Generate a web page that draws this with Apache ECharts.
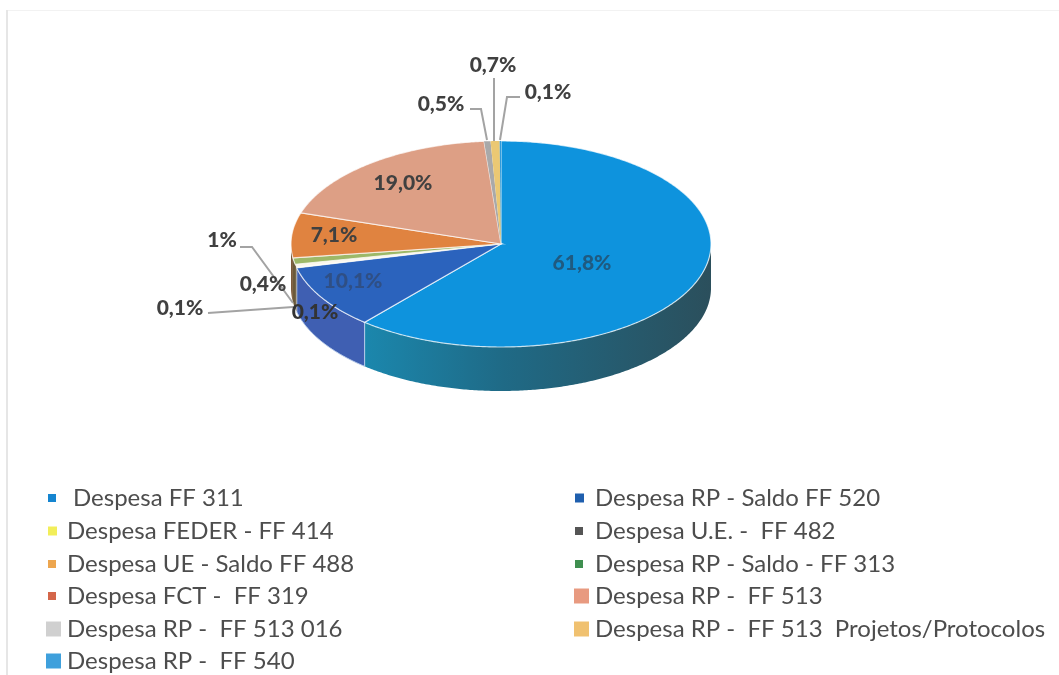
<!DOCTYPE html>
<html>
<head>
<meta charset="utf-8">
<style>
  html, body { margin: 0; padding: 0; background: #fff; }
  #chart { width: 1059px; height: 675px; }
</style>
<script src="https://cdn.jsdelivr.net/npm/echarts@6/dist/echarts.min.js"></script>
</head>
<body>
<div id="chart"></div>
<script>
// data, in drawing order (clockwise from 12 o'clock)
const categories = [
  'Despesa FF 311',
  'Despesa RP - Saldo FF 520',
  'Despesa FEDER - FF 414',
  'Despesa U.E. -  FF 482',
  'Despesa UE - Saldo FF 488',
  'Despesa RP - Saldo - FF 313',
  'Despesa FCT -  FF 319',
  'Despesa RP -  FF 513',
  'Despesa RP -  FF 513 016',
  'Despesa RP -  FF 513  Projetos/Protocolos',
  'Despesa RP -  FF 540'
]
const values = [61.8, 10.1, 0.1, 0.1, 0.4, 1, 7.1, 19.0, 0.5, 0.7, 0.1]
const valueLabels = ['61,8%', '10,1%', '0,1%', '0,1%', '0,4%', '1%', '7,1%', '19,0%', '0,5%', '0,7%', '0,1%']

// styles
const topColors = ['#0e93dd', '#2b63bd', '#fdfcf4', '#fdfcf4', '#fbf6ec', '#9db868', '#e08340', '#dd9f85', '#a9a9a9', '#ebc873', '#2f9bdc']
const sideColors = ['#1b87ad', '#3f5fb2', '#ffffff', '#6b5a3a', '#6b5a3a', '#6b5a3a', '#7a5a3a', '#b5806a', '#888888', '#c0a050', '#2080b0']
const legendColors = ['#1585d0', '#1f5fae', '#f2ee5a', '#555555', '#eda64f', '#3f8f50', '#d4664a', '#e89a80', '#d0d0d0', '#f0c170', '#3fa0dc']
const labelColors = ['#1f5a80', '#2f4f85', '#333333', '#404040', '#404040', '#404040', '#404040', '#404040', '#404040', '#404040', '#404040']

// layout
const cx = 501
const cy = 244
const rx = 210
const ry = 103
const depth = 44
const labelPos = [[582, 263], [353, 281], [315, 312], [180, 308], [263, 284], [222, 240], [334, 235], [403, 183], [441, 104], [493, 65], [548, 92]]
const leaders = [
  null, null, null,
  [[208, 313], [293, 307]],
  null,
  [[240, 247], [252, 247], [293, 303]],
  null, null,
  [[470, 109], [481, 109], [487, 140]],
  [[494, 78], [494, 141]],
  [[520, 97], [507, 97], [500, 140]]
]
// [icon x, row y, icon size, gap to the text]
const legendLayout = [
  [48, 498, 8, 17], [575, 498, 9, 11],
  [48, 531, 9, 10], [575, 531, 8, 12],
  [48, 564, 8, 11], [575, 564, 8, 12],
  [48, 596, 8, 11], [574, 596, 15, 6],
  [46, 629, 15, 6], [574, 629, 15, 6],
  [46, 661, 15, 6]
]

const total = values.reduce((a, b) => a + b, 0)
const startAngles = []
values.reduce((sum, v, i) => {
  startAngles[i] = sum / total * Math.PI * 2
  return sum + v
}, 0)

function rim(a, drop) {
  return [cx + rx * Math.sin(a), cy - ry * Math.cos(a) + (drop || 0)]
}

function arc(a0, a1, drop) {
  const n = Math.max(2, Math.ceil((a1 - a0) / 0.01))
  const pts = []
  for (let i = 0; i <= n; i++) {
    pts.push(rim(a0 + (a1 - a0) * i / n, drop))
  }
  return pts
}

function renderSlice(i) {
  const a0 = startAngles[i]
  const a1 = a0 + values[i] / total * Math.PI * 2
  const children = []

  // only the front half of the rim shows a wall
  const s0 = Math.max(a0, Math.PI / 2)
  const s1 = Math.min(a1, Math.PI * 1.5)
  if (s1 > s0) {
    const fill = i === 0
      ? new echarts.graphic.LinearGradient(0, 0, 1, 0, [
        { offset: 0, color: '#1b87ad' },
        { offset: 0.4, color: '#1f6a86' },
        { offset: 1, color: '#2b4f5c' }
      ])
      : sideColors[i]
    children.push({
      type: 'polygon',
      z2: 1,
      shape: { points: arc(s0, s1, 0).concat(arc(s0, s1, depth).reverse()) },
      style: { fill: fill, stroke: i === 1 ? '#b9cdea' : null, lineWidth: 1 }
    })
  }

  children.push({
    type: 'polygon',
    z2: 2,
    shape: { points: [[cx, cy]].concat(arc(a0, a1, 0)) },
    style: { fill: topColors[i], stroke: 'rgba(255,255,255,0.7)', lineWidth: values[i] < 1 ? 0 : 1.2 }
  })

  if (leaders[i]) {
    children.push({
      type: 'polyline',
      z2: 3,
      shape: { points: leaders[i] },
      style: { fill: null, stroke: '#a3a3a3', lineWidth: 2 }
    })
  }

  children.push({
    type: 'text',
    z2: 4,
    x: labelPos[i][0],
    y: labelPos[i][1],
    style: {
      text: valueLabels[i],
      fill: labelColors[i],
      font: '900 21px Lato',
      align: 'center',
      verticalAlign: 'middle'
    }
  })

  return { type: 'group', children: children }
}

const chart = echarts.init(document.getElementById('chart'))

chart.setOption({
  animation: false,
  backgroundColor: '#fff',
  color: legendColors,
  legend: categories.map((name, i) => ({
    left: legendLayout[i][0],
    top: legendLayout[i][1] - 14,
    padding: 0,
    itemWidth: legendLayout[i][2],
    itemHeight: legendLayout[i][2],
    icon: 'rect',
    selectedMode: false,
    data: [name],
    textStyle: {
      fontFamily: 'Lato',
      fontSize: 24,
      color: '#4d4d4d',
      lineHeight: 28,
      padding: [0, 0, 0, legendLayout[i][3] - 5]
    }
  })),
  graphic: [
    { type: 'rect', silent: true, shape: { x: 6, y: 10, width: 2, height: 665 }, style: { fill: '#e6e6e6' } },
    { type: 'rect', silent: true, shape: { x: 8, y: 10, width: 1051, height: 1 }, style: { fill: '#f2f2f2' } }
  ],
  series: categories.map((name, i) => ({
    type: 'custom',
    name: name,
    coordinateSystem: 'none',
    silent: true,
    data: [[values[i]]],
    renderItem: () => renderSlice(i)
  }))
})
</script>
</body>
</html>
